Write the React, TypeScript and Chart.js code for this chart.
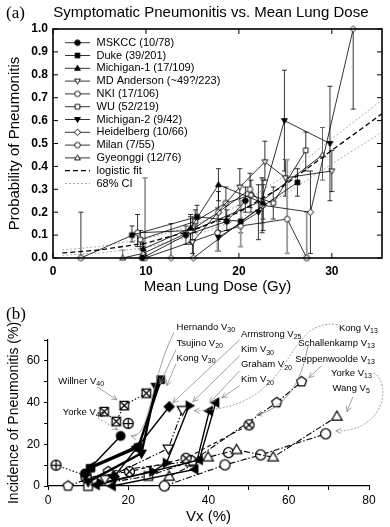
import React, { useEffect, useRef } from 'react';
import { Chart, registerables } from 'chart.js';

Chart.register(...registerables);

const FONT = "'Liberation Sans', Arial, Helvetica, sans-serif";

// ================= Panel (a) data =================
const titleA = 'Symptomatic Pneumonitis vs. Mean Lung Dose';
const doseTicks = [0, 10, 20, 30];

const mskccX = [9.6, 14.3, 18.7, 20.7];
const mskccY = [0.0, 0.10, 0.16, 0.25];
const mskccLo = [0.0, 0.06, 0.12, 0.20];
const mskccHi = [0.06, 0.14, 0.21, 0.31];

const dukeX = [8.5, 15.5, 20.2, 26.3];
const dukeY = [0.10, 0.18, 0.16, 0.33];
const dukeLo = [0.07, 0.13, 0.11, 0.27];
const dukeHi = [0.14, 0.23, 0.21, 0.39];

const mich1X = [9.7, 14.8, 17.8, 22.6];
const mich1Y = [0.04, 0.13, 0.32, 0.24];
const mich1Lo = [0.01, 0.07, 0.25, 0.17];
const mich1Hi = [0.07, 0.19, 0.39, 0.32];

const mdaX = [15.0, 20.1, 22.8, 25.0, 30.0];
const mdaY = [0.07, 0.31, 0.42, 0.35, 0.38];
const mdaLo = [0.02, 0.23, 0.34, 0.27, 0.29];
const mdaHi = [0.14, 0.39, 0.51, 0.43, 0.47];

const nkiX = [3.0, 9.1, 14.8, 17.8, 21.2, 22.5];
const nkiY = [0.0, 0.11, 0.12, 0.20, 0.30, 0.23];
const nkiLo = [0.0, 0.05, 0.06, 0.12, 0.22, 0.11];
const nkiHi = [0.20, 0.19, 0.18, 0.29, 0.37, 0.35];

const wuX = [9.4, 15.3, 18.6, 21.3, 23.7, 27.2];
const wuY = [0.08, 0.16, 0.24, 0.275, 0.24, 0.47];
const wuLo = [0.04, 0.11, 0.17, 0.20, 0.17, 0.38];
const wuHi = [0.12, 0.21, 0.31, 0.34, 0.31, 0.55];

const mich2X = [17.8, 22.1, 24.9, 29.8];
const mich2Y = [0.09, 0.20, 0.60, 0.50];
const mich2Lo = [0.03, 0.08, 0.38, 0.25];
const mich2Hi = [0.16, 0.32, 0.82, 0.75];

const heidX = [12.7, 15.1, 22.6, 27.7, 32.3];
const heidY = [0.0, 0.0, 0.23, 0.20, 1.0];
const heidLo = [0.0, 0.0, 0.12, 0.02, 0.65];
const heidHi = [0.15, 0.08, 0.34, 0.38, 1.0];

const milanX = [9.9, 17.7, 20.2, 25.2, 27.3];
const milanY = [0.0, 0.11, 0.14, 0.17, 0.0];
const milanLo = [0.0, 0.03, 0.05, 0.02, 0.0];
const milanHi = [0.35, 0.22, 0.25, 0.43, 0.20];

const gyeX = [7.5, 9.7, 15.0, 22.5, 29.0];
const gyeY = [0.0, 0.02, 0.12, 0.25, 0.45];
const gyeLo = [0.0, 0.0, 0.07, 0.15, 0.34];
const gyeHi = [0.035, 0.05, 0.18, 0.35, 0.57];

const fitX = [1, 5, 10, 15, 20, 25, 30, 35.4];
const fitY = [0.022, 0.035, 0.065, 0.12, 0.2, 0.32, 0.47, 0.63];
const ciHiY = [0.035, 0.05, 0.085, 0.14, 0.23, 0.36, 0.52, 0.69];
const ciLoY = [0.012, 0.022, 0.045, 0.095, 0.17, 0.28, 0.41, 0.55];

// ================= Panel (b) data =================
const sqFX = [10.5, 22.5, 28.1];
const sqFY = [8.5, 18.5, 51];
const tdFX = [10, 23.3, 26.9];
const tdFY = [2, 15.7, 47.7];
const tlAX = [10.9, 22];
const tlAY = [9.3, 18.8];
const ciFX = [9.2, 18.1];
const ciFY = [6, 24];
const diFX = [16.5, 30.2];
const diFY = [4.5, 38];
const tdOX = [14.2, 30, 33.5];
const tdOY = [3.4, 18, 36.5];
const trFX = [13, 26.1, 29.5, 35.2];
const trFY = [1.5, 6.9, 11, 38.5];
const tlBX = [16, 36.6, 40.2];
const tlBY = [0, 8, 36];
const tlCX = [12, 37.7, 41.8];
const tlCY = [0.5, 12.5, 40];
const cxX = [9.5, 20.3, 34.4, 50.1];
const cxY = [4, 6.9, 13.3, 29.3];
const cpX = [2, 9.5];
const cpY = [10, 5];
const cp2X = [20];
const cp2Y = [30];
const bxX = [14, 17, 19, 24.5];
const bxY = [35.7, 31, 38.6, 44.5];
const peX = [5, 15, 36, 57, 63.2];
const peY = [0, 6.9, 12, 40, 50];
const sqOX = [10, 25, 35.4];
const sqOY = [0, 4.8, 11.7];
const tuOX = [30.2, 39.9, 47, 56.1, 72];
const tuOY = [4.5, 13.8, 17.3, 13.8, 33.3];
const ciOX = [29, 44.1, 53, 69.2];
const ciOY = [0, 10.1, 14.9, 25];
const ciO2X = [45];
const ciO2Y = [16];

// annotation labels of panel (b)
const annMain = ['Hernando V', 'Tsujino V', 'Kong V', 'Willner V', 'Yorke V', 'Armstrong V', 'Kim V', 'Graham V', 'Kim V', 'Kong V', 'Schallenkamp V', 'Seppenwoolde V', 'Yorke V', 'Wang V'];
const annSub = ['30', '20', '30', '40', '40', '25', '30', '20', '20', '13', '13', '13', '13', '5'];

// ---------- layout of annotation labels / leaders (data units) ----------
const annLayout: { at: number[]; align: 'left' | 'right'; path: number[][]; dash?: number[] }[] = [
  { at: [32.05, 76.1], align: 'left', path: [[31.4, 73.6], [25.4, 51], [25.4, 22.1], [20.7, 24.0]] },
  { at: [32.05, 68.6], align: 'left', path: [[31.9, 65.4], [27.9, 49.0]] },
  { at: [32.05, 61.4], align: 'left', path: [[31.9, 58.6], [29.6, 48.1]] },
  { at: [2.57, 50.1], align: 'left', path: [[12.2, 47.6], [17.2, 41.3]] },
  { at: [3.7, 35.5], align: 'left', path: [[12.4, 32.7], [17.4, 26.9]], dash: [2, 2] },
  { at: [48.07, 72.9], align: 'left', path: [[47.8, 70.2], [31.1, 39.9]] },
  { at: [48.07, 65.4], align: 'left', path: [[47.8, 62.5], [36.1, 40.4]] },
  { at: [48.07, 58.2], align: 'left', path: [[47.8, 55.3], [40.3, 39.9]] },
  { at: [48.07, 51.0], align: 'left', path: [[47.8, 48.1], [43.3, 42.3]] },
  { at: [82.2, 75.8], align: 'right', path: [[72.2, 77.4], [57.8, 80.8], [62.8, 36.5], [36.4, 36.1]], dash: [2, 1.5] },
  { at: [81.44, 68.6], align: 'right', path: [[64.8, 67.3], [62.3, 38.9], [52.0, 34.1]] },
  { at: [81.44, 60.9], align: 'right', path: [[68.2, 57.7], [65.0, 51.9]] },
  { at: [80.7, 54.2], align: 'right', path: [[81.2, 54.3], [85.7, 48.6], [83.9, 26.0], [71.7, 26.4]], dash: [2, 1.5] },
  { at: [80.2, 47.0], align: 'right', path: [[76.0, 42.8], [74.5, 35.6]] },
];

// ---------- helpers ----------
function regPoly(g: CanvasRenderingContext2D, cx: number, cy: number, r: number, n: number, startDeg: number) {
  for (let i = 0; i < n; i++) {
    const a = ((startDeg + (i * 360) / n) * Math.PI) / 180;
    const px = cx + r * Math.cos(a);
    const py = cy + r * Math.sin(a);
    if (i === 0) g.moveTo(px, py);
    else g.lineTo(px, py);
  }
  g.closePath();
}

function makeMarker(shape: string, r: number, filled: boolean, lw = 1): HTMLCanvasElement {
  let size = Math.ceil(2.6 * r + 2 * lw + 2);
  if (size % 2 === 0) size += 1;
  const c = document.createElement('canvas');
  c.width = size;
  c.height = size;
  const g = c.getContext('2d') as CanvasRenderingContext2D;
  const cx = size / 2;
  const cy = size / 2;
  g.lineWidth = lw;
  g.strokeStyle = '#000';
  g.fillStyle = filled ? '#000' : '#fff';
  g.beginPath();
  const h = r * 0.85;
  if (shape === 'circle' || shape === 'circX' || shape === 'circPlus') g.arc(cx, cy, r, 0, Math.PI * 2);
  else if (shape === 'square' || shape === 'boxX') g.rect(cx - h, cy - h, 2 * h, 2 * h);
  else if (shape === 'triUp') regPoly(g, cx, cy + r * 0.1, r * 1.2, 3, -90);
  else if (shape === 'triDown') regPoly(g, cx, cy - r * 0.1, r * 1.2, 3, 90);
  else if (shape === 'triLeft') regPoly(g, cx + r * 0.1, cy, r * 1.2, 3, 180);
  else if (shape === 'triRight') regPoly(g, cx - r * 0.1, cy, r * 1.2, 3, 0);
  else if (shape === 'diamond') regPoly(g, cx, cy, r * 1.15, 4, -90);
  else if (shape === 'pentagon') regPoly(g, cx, cy, r * 1.05, 5, -90);
  g.fill();
  g.stroke();
  g.beginPath();
  if (shape === 'boxX') {
    g.moveTo(cx - h, cy - h); g.lineTo(cx + h, cy + h);
    g.moveTo(cx + h, cy - h); g.lineTo(cx - h, cy + h);
  } else if (shape === 'circX') {
    const d = r * 0.707;
    g.moveTo(cx - d, cy - d); g.lineTo(cx + d, cy + d);
    g.moveTo(cx + d, cy - d); g.lineTo(cx - d, cy + d);
  } else if (shape === 'circPlus') {
    g.moveTo(cx - r, cy); g.lineTo(cx + r, cy);
    g.moveTo(cx, cy - r); g.lineTo(cx, cy + r);
  }
  g.stroke();
  return c;
}

const toPts = (xs: number[], ys: number[]) => xs.map((x, i) => ({ x, y: ys[i] }));

// ---------- plugins (a) ----------
const titlePluginA = {
  id: 'titleA',
  afterDraw(chart: any) {
    const { ctx, chartArea } = chart;
    ctx.save();
    ctx.fillStyle = '#000';
    ctx.font = `15px ${FONT}`;
    ctx.textAlign = 'center';
    ctx.textBaseline = 'middle';
    ctx.fillText(titleA, chartArea.left + (chartArea.right - chartArea.left) * 0.48, 13);
    ctx.restore();
  },
};

const framePluginA = {
  id: 'frameA',
  afterDraw(chart: any) {
    const { ctx, chartArea, scales } = chart;
    const { left, right, top, bottom } = chartArea;
    ctx.save();
    ctx.strokeStyle = '#000';
    ctx.lineWidth = 1.6;
    ctx.strokeRect(left, top, right - left, bottom - top);
    ctx.lineWidth = 1;
    ctx.beginPath();
    scales.x.ticks.forEach((t: any) => {
      const px = scales.x.getPixelForValue(t.value);
      ctx.moveTo(px, bottom); ctx.lineTo(px, bottom - 5);
      ctx.moveTo(px, top); ctx.lineTo(px, top + 5);
    });
    scales.y.ticks.forEach((t: any) => {
      const py = scales.y.getPixelForValue(t.value);
      ctx.moveTo(left, py); ctx.lineTo(left + 5, py);
      ctx.moveTo(right, py); ctx.lineTo(right - 5, py);
    });
    ctx.stroke();
    ctx.restore();
  },
};

const errorBarPlugin = {
  id: 'errBars',
  beforeDatasetsDraw(chart: any) {
    const { ctx, scales } = chart;
    chart.data.datasets.forEach((ds: any) => {
      if (!ds.errLo) return;
      ctx.save();
      ctx.strokeStyle = ds.errColor || '#000';
      ctx.lineWidth = ds.errWidth || 0.8;
      ds.data.forEach((p: any, i: number) => {
        const px = scales.x.getPixelForValue(p.x);
        const p1 = scales.y.getPixelForValue(ds.errLo[i]);
        const p2 = scales.y.getPixelForValue(ds.errHi[i]);
        if (Math.abs(p1 - p2) < 0.5) return;
        ctx.beginPath();
        ctx.moveTo(px, p1); ctx.lineTo(px, p2);
        ctx.moveTo(px - 2.5, p1); ctx.lineTo(px + 2.5, p1);
        ctx.moveTo(px - 2.5, p2); ctx.lineTo(px + 2.5, p2);
        ctx.stroke();
      });
      ctx.restore();
    });
  },
};

const legendPluginA = {
  id: 'innerLegend',
  afterDatasetsDraw(chart: any) {
    const { ctx, chartArea } = chart;
    let row = 0;
    chart.data.datasets.forEach((ds: any) => {
      if (!ds.legendText) return;
      const y = chartArea.top + 13.7 + row * 12.8;
      row++;
      const x0 = chartArea.left + 12;
      ctx.save();
      ctx.strokeStyle = ds.borderColor;
      ctx.lineWidth = ds.borderWidth;
      ctx.setLineDash(ds.borderDash || []);
      ctx.beginPath();
      ctx.moveTo(x0, y); ctx.lineTo(x0 + 25, y);
      ctx.stroke();
      ctx.setLineDash([]);
      if (ds.pointRadius > 0 && ds.pointStyle instanceof HTMLCanvasElement) {
        const im = ds.pointStyle as HTMLCanvasElement;
        ctx.drawImage(im, x0 + 12.5 - im.width / 2, y - im.height / 2);
      }
      ctx.fillStyle = '#000';
      ctx.font = `11px ${FONT}`;
      ctx.textBaseline = 'middle';
      ctx.fillText(ds.legendText, x0 + 31.5, y);
      ctx.restore();
    });
  },
};

// ---------- plugin (b) ----------
const annotationPluginB = {
  id: 'annB',
  afterDatasetsDraw(chart: any) {
    const { ctx, scales } = chart;
    const X = (v: number) => scales.x.getPixelForValue(v);
    const Y = (v: number) => scales.y.getPixelForValue(v);
    ctx.save();
    annLayout.forEach((a, i) => {
      const pts = a.path.map((p) => [X(p[0]), Y(p[1])]);
      ctx.strokeStyle = '#8c8c8c';
      ctx.lineWidth = 0.8;
      ctx.setLineDash(a.dash || []);
      ctx.beginPath();
      ctx.moveTo(pts[0][0], pts[0][1]);
      if (pts.length === 2) ctx.lineTo(pts[1][0], pts[1][1]);
      else if (pts.length === 3) ctx.quadraticCurveTo(pts[1][0], pts[1][1], pts[2][0], pts[2][1]);
      else ctx.bezierCurveTo(pts[1][0], pts[1][1], pts[2][0], pts[2][1], pts[3][0], pts[3][1]);
      ctx.stroke();
      ctx.setLineDash([]);
      const tip = pts[pts.length - 1];
      const prev = pts[pts.length - 2];
      const ang = Math.atan2(tip[1] - prev[1], tip[0] - prev[0]);
      ctx.beginPath();
      for (const s of [-1, 1]) {
        const aa = ang + Math.PI + s * 0.45;
        ctx.moveTo(tip[0], tip[1]);
        ctx.lineTo(tip[0] + 6 * Math.cos(aa), tip[1] + 6 * Math.sin(aa));
      }
      ctx.stroke();
      ctx.fillStyle = '#000';
      ctx.textBaseline = 'middle';
      ctx.textAlign = 'left';
      ctx.font = `9.5px ${FONT}`;
      const w1 = ctx.measureText(annMain[i]).width;
      ctx.font = `7px ${FONT}`;
      const w2 = ctx.measureText(annSub[i]).width;
      const ax = X(a.at[0]);
      const ay = Y(a.at[1]);
      const x0 = a.align === 'right' ? ax - w1 - w2 : ax;
      ctx.font = `9.5px ${FONT}`;
      ctx.fillText(annMain[i], x0, ay);
      ctx.font = `7px ${FONT}`;
      ctx.fillText(annSub[i], x0 + w1, ay + 3);
    });
    ctx.restore();
  },
};

export default function App() {
  const refA = useRef<HTMLCanvasElement | null>(null);
  const refB = useRef<HTMLCanvasElement | null>(null);

  useEffect(() => {
    document.body.style.margin = '0';
    Chart.defaults.color = '#000';
    Chart.defaults.font.family = FONT;

    // ---------------- chart (a) ----------------
    const mA = (shape: string, filled: boolean) => makeMarker(shape, 2.8, filled, 0.9);
    const seriesA = [
      { t: 'MSKCC (10/78)', x: mskccX, y: mskccY, lo: mskccLo, hi: mskccHi, s: 'circle', f: true, ec: '#000', ew: 0.8 },
      { t: 'Duke (39/201)', x: dukeX, y: dukeY, lo: dukeLo, hi: dukeHi, s: 'square', f: true, ec: '#000', ew: 0.8 },
      { t: 'Michigan-1 (17/109)', x: mich1X, y: mich1Y, lo: mich1Lo, hi: mich1Hi, s: 'triUp', f: true, ec: '#000', ew: 0.8 },
      { t: 'MD Anderson (~49?/223)', x: mdaX, y: mdaY, lo: mdaLo, hi: mdaHi, s: 'triDown', f: false, ec: '#000', ew: 0.8 },
      { t: 'NKI (17/106)', x: nkiX, y: nkiY, lo: nkiLo, hi: nkiHi, s: 'circle', f: false, ec: '#000', ew: 0.8 },
      { t: 'WU (52/219)', x: wuX, y: wuY, lo: wuLo, hi: wuHi, s: 'square', f: false, ec: '#000', ew: 0.8 },
      { t: 'Michigan-2 (9/42)', x: mich2X, y: mich2Y, lo: mich2Lo, hi: mich2Hi, s: 'triDown', f: true, ec: '#000', ew: 0.8 },
      { t: 'Heidelberg (10/66)', x: heidX, y: heidY, lo: heidLo, hi: heidHi, s: 'diamond', f: false, ec: '#000', ew: 0.8 },
      { t: 'Milan (7/55)', x: milanX, y: milanY, lo: milanLo, hi: milanHi, s: 'circle', f: false, ec: '#9a9a9a', ew: 1.8 },
      { t: 'Gyeonggi (12/76)', x: gyeX, y: gyeY, lo: gyeLo, hi: gyeHi, s: 'triUp', f: false, ec: '#666', ew: 1.0 },
    ];
    const dsA: any[] = seriesA.map((s) => ({
      label: s.t,
      legendText: s.t,
      data: toPts(s.x, s.y),
      showLine: true,
      borderColor: '#000',
      borderWidth: 0.8,
      pointStyle: mA(s.s, s.f),
      pointRadius: 3,
      pointHoverRadius: 3,
      clip: false,
      errLo: s.lo,
      errHi: s.hi,
      errColor: s.ec,
      errWidth: s.ew,
    }));
    dsA.push({
      label: 'logistic fit', legendText: 'logistic fit', data: toPts(fitX, fitY), showLine: true,
      borderColor: '#000', borderWidth: 1.3, borderDash: [5, 3], pointRadius: 0, clip: false,
    });
    dsA.push({
      label: '68% CI', legendText: '68% CI', data: toPts(fitX, ciHiY), showLine: true,
      borderColor: '#a0a0a0', borderWidth: 0.9, borderDash: [2, 2], pointRadius: 0, clip: false,
    });
    dsA.push({
      label: '68% CI low', data: toPts(fitX, ciLoY), showLine: true,
      borderColor: '#a0a0a0', borderWidth: 0.9, borderDash: [2, 2], pointRadius: 0, clip: false,
    });

    const chartA = new Chart(refA.current as HTMLCanvasElement, {
      type: 'scatter',
      data: { datasets: dsA },
      options: {
        animation: false,
        responsive: false,
        maintainAspectRatio: false,
        layout: { padding: { top: 29, right: 8, left: 0, bottom: 0 } },
        plugins: { legend: { display: false }, tooltip: { enabled: false }, title: { display: false } },
        scales: {
          x: {
            type: 'linear', min: 0, max: 35.4,
            afterBuildTicks: (axis: any) => { axis.ticks = doseTicks.map((v) => ({ value: v })); },
            afterFit: (scale: any) => { scale.height = 42; },
            grid: { display: false, drawTicks: false },
            border: { display: false },
            ticks: { font: { size: 12, weight: 'bold' }, padding: 6, callback: (v: any) => String(v) },
            title: { display: true, text: 'Mean Lung Dose (Gy)', font: { size: 15 }, padding: { top: 0, bottom: 4 } },
          },
          y: {
            type: 'linear', min: 0, max: 1.0,
            afterFit: (scale: any) => { scale.width = 53; },
            grid: { display: false, drawTicks: false },
            border: { display: false },
            ticks: { stepSize: 0.1, font: { size: 12, weight: 'bold' }, padding: 5, callback: (v: any) => Number(v).toFixed(1) },
            title: { display: true, text: 'Probability of Pneumonitis', font: { size: 15 }, padding: { top: 6, bottom: 0 } },
          },
        },
      } as any,
      plugins: [errorBarPlugin, framePluginA, legendPluginA, titlePluginA],
    });

    // ---------------- chart (b) ----------------
    const mB = (shape: string, filled: boolean) => makeMarker(shape, filled ? 4.3 : 5, filled, 1.25);
    const DD = [6, 2, 1.5, 2];
    const DDD = [6, 2, 1.5, 2, 1.5, 2];
    const seriesB = [
      { x: sqFX, y: sqFY, s: 'square', f: true, w: 2.4, d: [] as number[] },
      { x: tdFX, y: tdFY, s: 'triDown', f: true, w: 2.4, d: [] as number[] },
      { x: tlAX, y: tlAY, s: 'triLeft', f: true, w: 2.4, d: [] as number[] },
      { x: ciFX, y: ciFY, s: 'circle', f: true, w: 1.4, d: [] as number[] },
      { x: diFX, y: diFY, s: 'diamond', f: true, w: 1.4, d: [] as number[] },
      { x: tdOX, y: tdOY, s: 'triDown', f: false, w: 1.1, d: DDD },
      { x: trFX, y: trFY, s: 'triRight', f: true, w: 1.4, d: [] as number[] },
      { x: tlBX, y: tlBY, s: 'triLeft', f: true, w: 1.4, d: [] as number[] },
      { x: tlCX, y: tlCY, s: 'triLeft', f: true, w: 1.4, d: [] as number[] },
      { x: cxX, y: cxY, s: 'circX', f: false, w: 1.1, d: [4, 3] },
      { x: cpX, y: cpY, s: 'circPlus', f: false, w: 1.1, d: [1.5, 2] },
      { x: cp2X, y: cp2Y, s: 'circPlus', f: false, w: 1.1, d: [1.5, 2] },
      { x: bxX, y: bxY, s: 'boxX', f: false, w: 1.1, d: [1.5, 2] },
      { x: peX, y: peY, s: 'pentagon', f: false, w: 1.1, d: DD },
      { x: sqOX, y: sqOY, s: 'square', f: false, w: 1.1, d: DD },
      { x: tuOX, y: tuOY, s: 'triUp', f: false, w: 1.1, d: DD },
      { x: ciOX, y: ciOY, s: 'circle', f: false, w: 1.1, d: DD },
      { x: ciO2X, y: ciO2Y, s: 'circle', f: false, w: 1.1, d: DD },
    ];
    const dsB: any[] = seriesB.map((s) => ({
      data: toPts(s.x, s.y),
      showLine: true,
      borderColor: '#000',
      borderWidth: s.w,
      borderDash: s.d,
      pointStyle: mB(s.s, s.f),
      pointRadius: 4,
      pointHoverRadius: 4,
      clip: false,
    }));

    const chartB = new Chart(refB.current as HTMLCanvasElement, {
      type: 'scatter',
      data: { datasets: dsB },
      options: {
        animation: false,
        responsive: false,
        maintainAspectRatio: false,
        layout: { padding: { top: 40, right: 21, left: 0, bottom: 0 } },
        plugins: { legend: { display: false }, tooltip: { enabled: false } },
        scales: {
          x: {
            type: 'linear', min: 0, max: 80,
            afterFit: (scale: any) => { scale.height = 41; },
            grid: { drawOnChartArea: false, drawTicks: true, tickLength: 4, color: '#000' },
            border: { display: true, color: '#000', width: 1.2 },
            ticks: { stepSize: 10, font: { size: 12 }, padding: 3, callback: (v: any) => (Number(v) % 20 === 0 ? String(v) : '') },
            title: { display: true, text: 'Vx (%)', font: { size: 15 }, padding: { top: 0, bottom: 1 } },
          },
          y: {
            type: 'linear', min: 0, max: 70,
            afterFit: (scale: any) => { scale.width = 48; },
            grid: { drawOnChartArea: false, drawTicks: true, tickLength: 4, color: '#000' },
            border: { display: true, color: '#000', width: 1.2 },
            ticks: { stepSize: 10, font: { size: 12 }, padding: 4, callback: (v: any) => (Number(v) % 20 === 0 ? String(v) : '') },
            title: { display: true, text: 'Incidence of Pneumonitis (%)', font: { size: 14 }, padding: { top: 6, bottom: 0 } },
          },
        },
      } as any,
      plugins: [annotationPluginB],
    });

    return () => {
      chartA.destroy();
      chartB.destroy();
    };
  }, []);

  const labelStyle: React.CSSProperties = {
    position: 'absolute',
    left: 6,
    fontFamily: "'Liberation Serif', 'Times New Roman', serif",
    fontSize: 17,
    lineHeight: '20px',
  };

  return (
    <div style={{ position: 'fixed', left: 0, top: 0, width: 390, height: 527, background: '#fff' }}>
      <canvas ref={refA} width={390} height={300} style={{ position: 'absolute', left: 0, top: 0, width: 390, height: 300 }} />
      <canvas ref={refB} width={390} height={227} style={{ position: 'absolute', left: 0, top: 300, width: 390, height: 227 }} />
      <div style={{ ...labelStyle, top: 3 }}>(a)</div>
      <div style={{ ...labelStyle, top: 304 }}>(b)</div>
    </div>
  );
}
